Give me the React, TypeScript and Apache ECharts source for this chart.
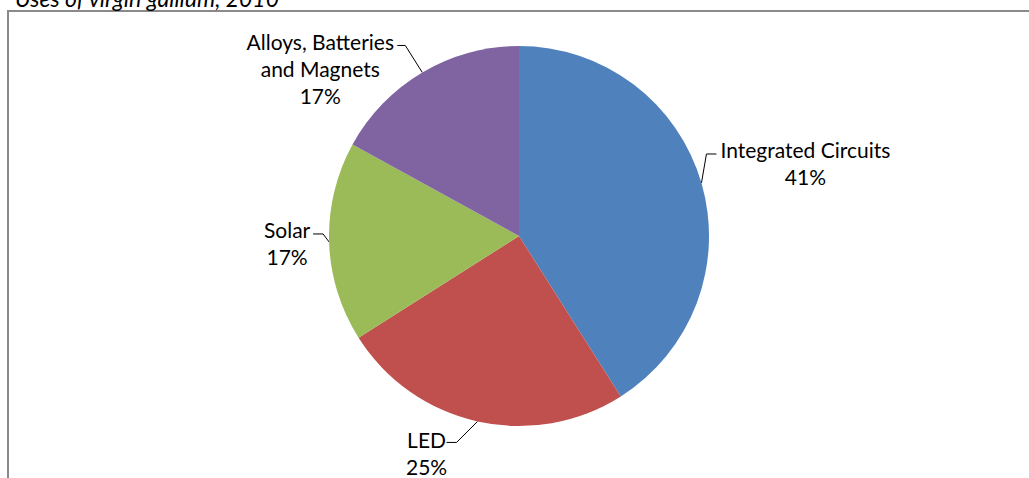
import React, { useEffect, useRef } from "react";
import * as echarts from "echarts";

const categories = ["Integrated Circuits", "LED", "Solar", "Alloys, Batteries\nand Magnets"];
const values = [41, 25, 17, 17];
const colors = ["#4F81BD", "#C0504D", "#9BBB59", "#8064A2"];
const titleText = "Uses of virgin gallium, 2010";

// leader-line layout per label: elbow offset from the slice edge, horizontal run, text offset from line end
const labelGeom = [
  { elbow: [5, -29], run: 10, text: [89, -4] },
  { elbow: [-21, 21], run: -10, text: [-20, -3] },
  { elbow: [-6, -8], run: -10, text: [-26, -4] },
  { elbow: [-17, -27], run: -8, text: [-77, -4] },
];

const FONT = "Lato, 'Open Sans', sans-serif";
const LH = 27;

export default function App() {
  const ref = useRef<HTMLDivElement>(null);
  useEffect(() => {
    const chart = echarts.init(ref.current!, null, { renderer: "svg" });
    chart.setOption({
      animation: false,
      backgroundColor: "#ffffff",
      graphic: [
        {
          type: "polyline",
          shape: { points: [[8, 478], [8, 11], [1029, 11]] },
          style: { stroke: "#8a8a8a", lineWidth: 2, fill: null },
          silent: true,
        },
        {
          type: "text",
          x: 15,
          y: 9,
          style: {
            text: titleText,
            font: `italic 23px ${FONT}`,
            fill: "#000",
            verticalAlign: "bottom",
          },
        },
      ],
      series: [
        {
          type: "pie",
          center: [519, 236],
          radius: 190,
          startAngle: 90,
          clockwise: true,
          avoidLabelOverlap: false,
          data: categories.map((c, i) => ({
            name: c,
            value: values[i],
            itemStyle: { color: colors[i] },
          })),
          label: {
            show: true,
            position: "outside",
            formatter: (p: any) => `${p.name}\n${p.value}%`,
            fontFamily: FONT,
            fontSize: 21,
            lineHeight: LH,
            color: "#000",
            align: "center",
          },
          labelLine: {
            show: true,
            length: 10,
            length2: 10,
            lineStyle: { color: "#000", width: 1 },
          },
          labelLayout: (params: any) => {
            const g = labelGeom[params.dataIndex];
            const p0 = params.labelLinePoints[0];
            const elbow = [p0[0] + g.elbow[0], p0[1] + g.elbow[1]];
            const end = [elbow[0] + g.run, elbow[1]];
            return {
              x: end[0] + g.text[0],
              y: end[1] + g.text[1] - LH / 2,
              align: "center",
              verticalAlign: "top",
              labelLinePoints: [p0, elbow, end],
            };
          },
          emphasis: { disabled: true },
        },
      ],
    });
    return () => chart.dispose();
  }, []);
  return (
    <div
      ref={ref}
      style={{ position: "fixed", left: 0, top: 0, width: 1029, height: 478, background: "#fff" }}
    />
  );
}
